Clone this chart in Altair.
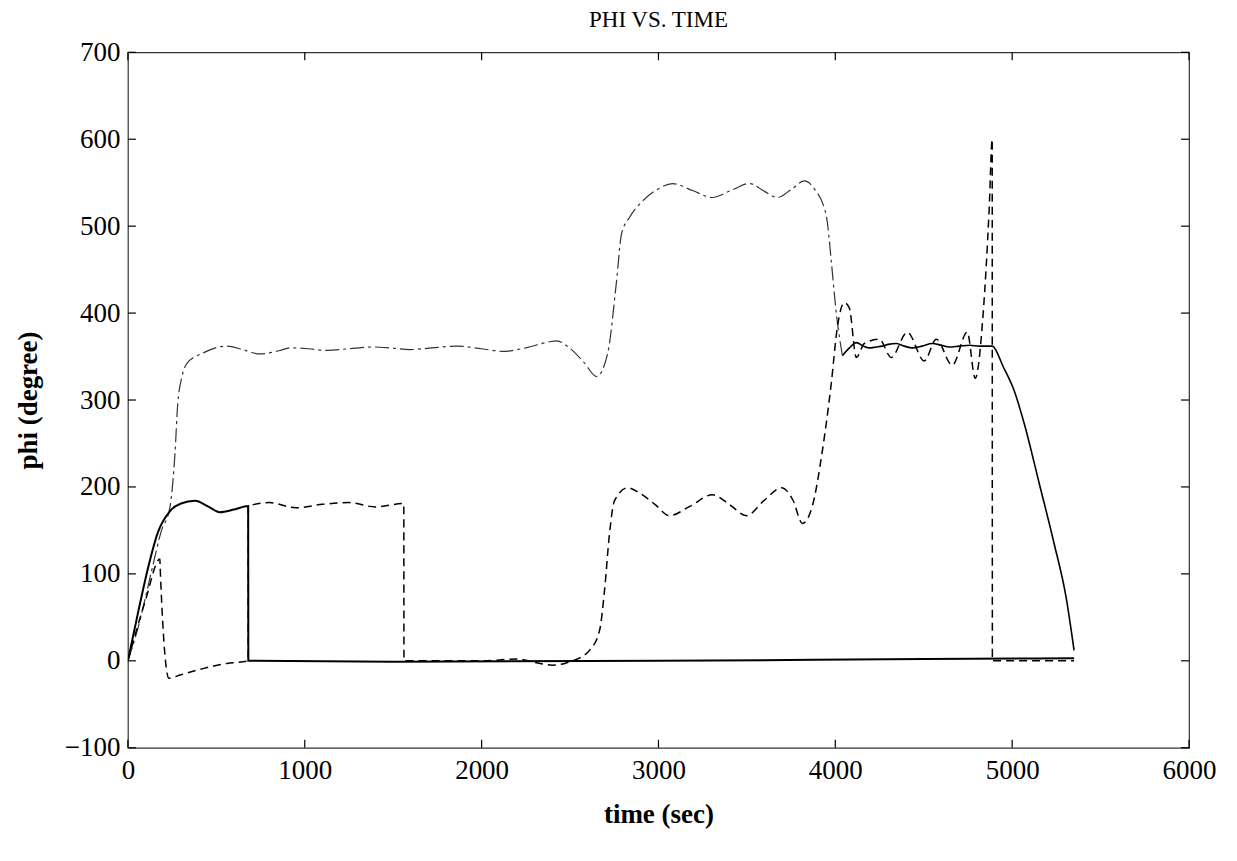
import altair as alt
import pandas as pd

# ---- data ----
solid_t = [0, 60, 120, 170, 237, 300, 380, 450, 520, 600, 680, 681, 1500, 3000, 4500, 5350]
solid_v = [0, 58, 112, 148, 172, 181, 184, 178, 171, 174, 178, 0, -1, 0, 2, 3]

dash_t = [0, 100, 181, 182, 232, 300, 424, 560, 680, 681, 800, 950, 1100, 1250, 1400, 1560, 1561,
          2000, 2200, 2330, 2400, 2470, 2514, 2610, 2667, 2695, 2723, 2751, 2825, 2893, 2980,
          3062, 3180, 3305, 3400, 3497, 3600, 3695, 3760, 3814, 3870, 3927, 3977, 4011, 4051,
          4079, 4119, 4164, 4249, 4316, 4407, 4503, 4571, 4661, 4746, 4791, 4836, 4870, 4887,
          4888, 5350]
dash_v = [0, 70, 117, 110, -20, -16, -9, -3, 0, 178, 182, 176, 180, 182, 177, 181, 0,
          0, 2, -3, -5, -3, 0, 12, 35, 81, 146, 184, 199, 193, 180,
          167, 178, 191, 180, 167, 185, 199, 185, 158, 178, 242, 319, 383, 412,
          406, 349, 365, 370, 349, 378, 345, 370, 340, 378, 325, 400, 520, 600,
          0, 0]

dd_t = [0, 60, 130, 190, 237, 266, 282, 305, 333, 424, 559, 650, 746, 859, 915, 1020, 1124,
        1250, 1384, 1480, 1593, 1720, 1859, 2000, 2119, 2250, 2384, 2424, 2497, 2580, 2650,
        2712, 2763, 2791, 2836, 2910, 3000, 3079, 3192, 3305, 3410, 3514, 3600, 3672, 3750,
        3825, 3881, 3949, 3977, 4006, 4040]
dd_v = [0, 40, 100, 150, 176, 238, 296, 326, 342, 354, 362, 358, 353, 357, 360, 359, 357,
        359, 361, 360, 358, 360, 362, 359, 356, 360, 367, 368, 360, 343, 327,
        353, 437, 491, 510, 529, 543, 549, 541, 533, 541, 549, 540, 533, 542,
        552, 543, 512, 460, 399, 351]

tail_t = [4040, 4080, 4119, 4160, 4192, 4230, 4266, 4300, 4345, 4390, 4435, 4490, 4548, 4600,
          4644, 4700, 4760, 4814, 4887, 4950, 5011, 5068, 5153, 5237, 5305, 5350]
tail_v = [351, 360, 366, 362, 360, 361, 362, 364, 365, 362, 360, 362, 365, 363,
          361, 362, 363, 362, 362, 338, 311, 273, 204, 135, 73, 12]

x_ticks = [0, 1000, 2000, 3000, 4000, 5000, 6000]
y_ticks = [-100, 0, 100, 200, 300, 400, 500, 600, 700]

W, H = 1062, 696
FONT = "Liberation Serif"

xs = alt.Scale(domain=[0, 6000], nice=False, zero=False)
ys = alt.Scale(domain=[-100, 700], nice=False, zero=False)

xaxis = alt.Axis(values=x_ticks, format="d", ticks=False, domain=False, grid=False, labelFont=FONT,
                 labelFontSize=27, labelColor="black", labelPadding=10, title="time (sec)",
                 titleFont=FONT, titleFontSize=27, titleFontWeight="bold", titleColor="black",
                 titlePadding=18, labelFlush=False)
yaxis = alt.Axis(values=y_ticks, format="d", ticks=False, domain=False, grid=False, labelFont=FONT,
                 labelFontSize=27, labelColor="black", labelPadding=8, title="phi (degree)",
                 titleFont=FONT, titleFontSize=27, titleFontWeight="bold", titleColor="black",
                 titlePadding=22, labelFlush=False)


def line(t, v, dash, width, color):
    df = pd.DataFrame({"t": t, "v": v, "i": range(len(t))})
    props = dict(strokeWidth=width, color=color, clip=True, interpolate="monotone")
    if dash:
        props["strokeDash"] = dash
    return alt.Chart(df).mark_line(**props).encode(
        x=alt.X("t:Q", scale=xs, axis=xaxis),
        y=alt.Y("v:Q", scale=ys, axis=yaxis),
        order="i:Q",
    )


solid = line(solid_t, solid_v, None, 2.0, "black")
dashed = line(dash_t, dash_v, [8, 5], 1.5, "black")
dashdot = line(dd_t, dd_v, [14, 4, 3, 4], 1.2, "#333333")
tail = line(tail_t, tail_v, None, 1.6, "black")

xt = pd.DataFrame({"t": x_ticks})
yt = pd.DataFrame({"v": y_ticks})
tick_style = dict(color="black", strokeWidth=1.2)
bx = alt.Chart(xt).mark_rule(**tick_style).encode(
    x=alt.X("t:Q", scale=xs, axis=xaxis), y=alt.value(H), y2=alt.value(H - 8))
tx = alt.Chart(xt).mark_rule(**tick_style).encode(
    x=alt.X("t:Q", scale=xs, axis=xaxis), y=alt.value(0), y2=alt.value(8))
ly = alt.Chart(yt).mark_rule(**tick_style).encode(
    y=alt.Y("v:Q", scale=ys, axis=yaxis), x=alt.value(0), x2=alt.value(8))
ry = alt.Chart(yt).mark_rule(**tick_style).encode(
    y=alt.Y("v:Q", scale=ys, axis=yaxis), x=alt.value(W), x2=alt.value(W - 8))

chart = alt.layer(dashdot, dashed, tail, solid, bx, tx, ly, ry).properties(
    width=W, height=H,
    title=alt.TitleParams("PHI VS. TIME", font=FONT, fontSize=23, fontWeight="normal",
                          color="black", offset=6),
    autosize=alt.AutoSizeParams(type="none"),
    padding={"left": 120, "top": 44, "right": 40, "bottom": 100},
).configure(
    background="white",
    view=alt.ViewConfig(stroke="#333333", strokeWidth=1.2),
)

chart.save("out.html", embed_options={"renderer": "svg", "actions": False})
